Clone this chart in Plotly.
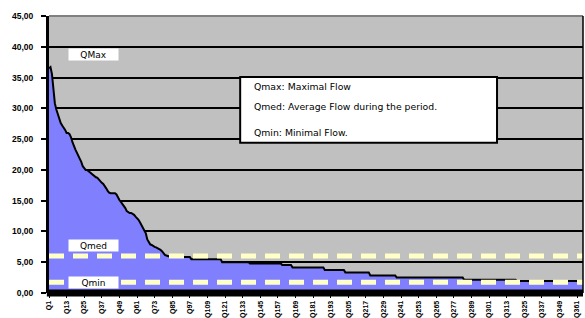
import plotly.graph_objects as go

# ---- data ----
# first days of the flow-duration curve, one value per day (m3/s)
head_flows = [36.5, 36.7, 35.6, 33.0, 30.8, 29.8, 29.0, 28.0, 27.6, 27.2,
              26.9, 26.5, 26.0, 26.0, 25.8, 25.3, 24.5, 23.7, 23.3, 22.8,
              22.4, 21.8, 21.3, 20.6, 20.3, 20.0, 20.0, 19.8, 19.5, 19.3,
              19.2, 19.0, 18.8, 18.7, 18.4, 18.2, 17.9, 17.7, 17.4, 17.0,
              16.6, 16.3, 16.2, 16.2, 16.2, 16.2, 16.0, 15.5, 15.1, 14.8,
              14.5, 14.2, 13.8, 13.3, 13.1, 13.0, 13.0, 12.9, 12.7, 12.4,
              12.2, 11.9, 11.5, 11.1, 10.7, 10.3, 9.7, 8.7, 8.3, 7.9,
              7.8, 7.6, 7.5, 7.4, 7.3, 7.2, 7.0, 6.8, 6.5, 6.2,
              6.1, 6.0, 5.9]
# remaining days: flat steps (flow level, number of days at that level)
step_flows = [5.85, 5.5, 5.0, 4.8, 4.55, 4.15, 3.75, 3.35, 2.85, 2.5, 2.15, 1.95]
step_days = [14, 21, 19, 22, 7, 22, 14, 17, 18, 46, 36, 46]

q_med = 6.0
q_min = 1.75

flows = list(head_flows)
for level, n in zip(step_flows, step_days):
    flows += [level] * n
categories = [f"Q{i}" for i in range(1, len(flows) + 1)]
tick_labels = categories[::12]

legend_lines = ["Qmax: Maximal Flow",
                "Qmed: Average Flow during the period.",
                "Qmin: Minimal Flow."]

FONT = "Liberation Sans, Arial, sans-serif"
TXT_FONT = "DejaVu Sans, sans-serif"

fig = go.Figure()
fig.add_trace(go.Scatter(
    x=categories, y=flows, mode="lines", fill="tozeroy",
    fillcolor="#8080FF", line=dict(color="black", width=2),
    hoverinfo="x+y", showlegend=False))

shapes = [
    # Qmed / Qmin dashed lines
    dict(type="line", xref="paper", yref="y", x0=0, x1=1, y0=q_med, y1=q_med,
         line=dict(color="#FFFFC8", width=5, dash="15px,9px")),
    dict(type="line", xref="paper", yref="y", x0=0, x1=1, y0=q_min, y1=q_min,
         line=dict(color="#FFFFC8", width=5, dash="15px,9px")),
    # thick base line
    dict(type="line", xref="paper", yref="paper", x0=-0.004, x1=1, y0=0, y1=0,
         line=dict(color="black", width=7)),
    # top border
    dict(type="line", xref="paper", yref="paper", x0=0, x1=1, y0=1, y1=1,
         line=dict(color="#808080", width=2)),
    # right border
    dict(type="line", xref="paper", yref="paper", x0=1, x1=1, y0=0, y1=1,
         line=dict(color="black", width=1.5)),
    # explanation box
    dict(type="rect", xref="paper", yref="paper", x0=0.358, x1=0.839,
         y0=0.542, y1=0.780, fillcolor="white",
         line=dict(color="black", width=2)),
]

annotations = []
for txt, yc in [("QMax", 0.861), ("Qmed", 0.1697), ("Qmin", 0.0397)]:
    annotations.append(dict(
        xref="paper", yref="paper", x=0.0833, y=yc, text=txt, showarrow=False,
        width=49, height=11, bgcolor="white", borderpad=0,
        font=dict(family=TXT_FONT, size=9, color="black"),
        xanchor="center", yanchor="middle"))
for txt, yc in zip(legend_lines, [0.744, 0.675, 0.581]):
    annotations.append(dict(
        xref="paper", yref="paper", x=0.380, y=yc, text=txt, showarrow=False,
        xanchor="left", yanchor="middle",
        font=dict(family=TXT_FONT, size=9.3, color="black")))

fig.update_layout(
    width=585, height=318,
    margin=dict(l=49, r=2, t=16, b=25),
    paper_bgcolor="white", plot_bgcolor="#C0C0C0",
    separators=",.",
    showlegend=False,
    shapes=shapes, annotations=annotations,
    xaxis=dict(type="category", range=[0, len(flows) - 1], automargin=False,
               tickmode="array", tickvals=tick_labels, ticktext=tick_labels,
               tickangle=-90, showgrid=False, ticks="outside", ticklen=4,
               tickcolor="black",
               tickfont=dict(family=FONT, size=7, color="black", weight="bold"),
               showline=False, zeroline=False),
    yaxis=dict(range=[0, 45], dtick=5, tickformat=".2f", automargin=False,
               showgrid=True, gridcolor="black", gridwidth=2,
               showline=True, linecolor="black", linewidth=3,
               ticks="outside", ticklen=5, tickwidth=2, tickcolor="black",
               ticklabelstandoff=6,
               tickfont=dict(family=FONT, size=8.5, color="black", weight="bold"),
               zeroline=False),
)

fig.write_html("out.html",
               config={"displayModeBar": False},
               post_script="document.body.style.margin='0';"
                           "document.body.style.overflow='hidden';")
